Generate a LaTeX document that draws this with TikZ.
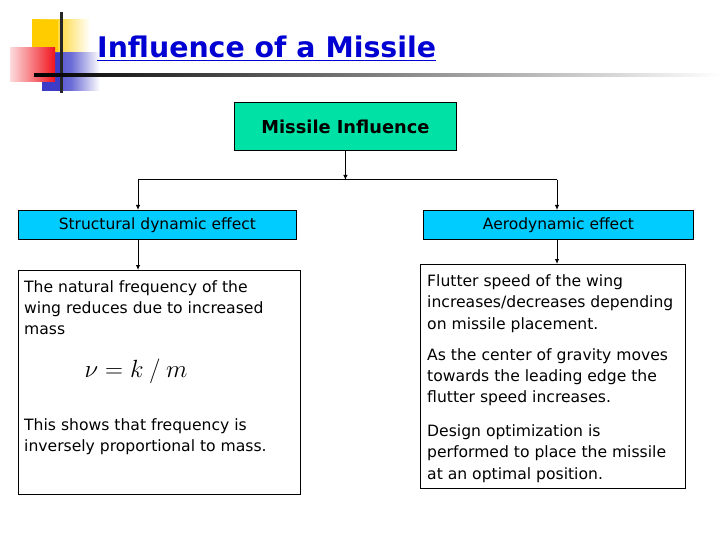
\documentclass[tikz,border=0pt]{standalone}
\usepackage{fontspec}
\setmainfont{DejaVu Sans}
\usetikzlibrary{arrows.meta}
\definecolor{teal1}{RGB}{0,226,165}
\definecolor{cyan1}{RGB}{0,204,255}
\definecolor{titleblue}{RGB}{0,0,210}
\definecolor{dyel}{RGB}{255,204,0}
\definecolor{dblue}{RGB}{60,60,200}
\definecolor{dred}{RGB}{240,20,30}
\begin{document}
\begin{tikzpicture}[x=1pt,y=-1pt,
  hdr/.style={draw, line width=0.8pt, anchor=north west, inner sep=0pt},
  txt/.style={anchor=north west, align=left, inner sep=0pt, font=\fontsize{15.6}{21.4}\selectfont},
  arr/.style={line width=1pt, -{Latex[length=5pt,width=4.5pt]}},
  conn/.style={line width=1pt}]
\useasboundingbox (0,0) rectangle (720,540);
% decoration
\shade[left color=dyel, right color=white, middle color=dyel!70] (32,20) rectangle (90,53);
\fill[dyel] (32,20) rectangle (58,53);
\shade[left color=dblue, right color=white, middle color=dblue!75] (42,53) rectangle (100,91);
\fill[dblue] (42,53) rectangle (62,91);
\shade[left color=dred!15, right color=dred] (10,48) rectangle (55,82);
\fill[black!85] (60,12) rectangle (62.5,93);
\shade[left color=black, right color=white] (34,74) rectangle (720,76.5);
% title
\node[anchor=base west, inner sep=0pt, text=titleblue, font=\fontsize{28.4}{30}\selectfont\bfseries] (title) at (97,58) {\underline{Influence of a Missile}};
% boxes
\node[hdr, fill=teal1, minimum width=222pt, minimum height=48pt, font=\fontsize{17.8}{20}\selectfont\bfseries] (mi) at (234,102) {Missile Influence};
\node[hdr, fill=cyan1, minimum width=278pt, minimum height=29pt, font=\fontsize{15.5}{17}\selectfont] (sd) at (18,210) {Structural dynamic effect};
\node[hdr, fill=cyan1, minimum width=270pt, minimum height=29pt, font=\fontsize{15.5}{17}\selectfont] (ae) at (423,210) {Aerodynamic effect};
\node[hdr, minimum width=282pt, minimum height=224pt] (lb) at (18,270) {};
\node[hdr, minimum width=265pt, minimum height=224pt] (rb) at (420,264) {};
% connectors
\coordinate (j) at (mi.south |- 0,180);
\draw[arr] (mi.south) -- (j);
\draw[conn] (138,180) coordinate (jl) -- (557,180) coordinate (jr);
\draw[arr] (jl) -- (jl |- sd.north);
\draw[arr] (jr) -- (jr |- ae.north);
\draw[arr] (jl |- sd.south) -- (jl |- lb.north);
\draw[arr] (jr |- ae.south) -- (jr |- rb.north);
% texts left
\node[txt] (l1) at (24,280) {The natural frequency of the\\wing reduces due to increased\\mass};
\node[anchor=center, inner sep=0pt, font=\fontsize{24.5}{26}\selectfont] (eq) at (136,371) {$\nu = k \mathbin{/} m$};
\node[txt] (l2) at (24,418.5) {This shows that frequency is\\inversely proportional to mass.};
% texts right
\node[txt] (r1) at (427,274.5) {Flutter speed of the wing\\increases/decreases depending\\on missile placement.};
\node[txt] (r2) at (427,348) {As the center of gravity moves\\towards the leading edge the\\flutter speed increases.};
\node[txt] (r3) at (427,424.5) {Design optimization is\\performed to place the missile\\at an optimal position.};
\end{tikzpicture}
\end{document}
